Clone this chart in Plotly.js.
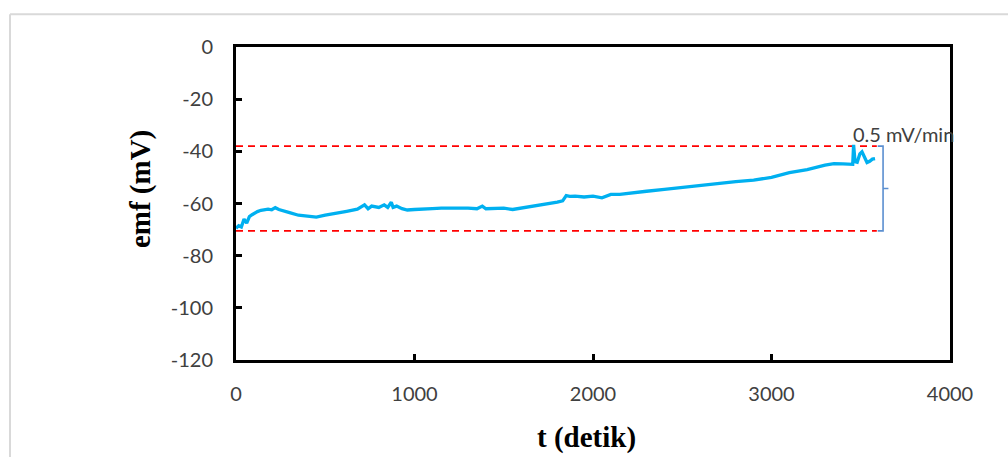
<!DOCTYPE html>
<html>
<head>
<meta charset="utf-8">
<script src="https://cdn.plot.ly/plotly-3.0.1.min.js"></script>
<style>html,body{margin:0;padding:0;background:#fff;}#chart{width:1008px;height:457px;}</style>
</head>
<body>
<div id="chart"></div>
<script>
// emf measurement series
const timeSec = [0, 15, 30, 45, 60, 75, 90, 105, 120, 140, 160, 180, 200, 220, 240, 260, 300, 350, 400, 450, 500, 560, 620, 680, 700, 720, 740, 760, 800, 830, 850, 870, 880, 900, 930, 960, 1000, 1050, 1100, 1150, 1200, 1250, 1300, 1350, 1380, 1400, 1450, 1500, 1550, 1600, 1650, 1700, 1750, 1800, 1830, 1850, 1870, 1900, 1950, 2000, 2050, 2100, 2150, 2200, 2300, 2400, 2500, 2600, 2700, 2800, 2900, 3000, 3100, 3200, 3300, 3350, 3400, 3440, 3455, 3460, 3468, 3480, 3495, 3507, 3520, 3535, 3550, 3565, 3580];
const emfMv = [-69.5, -68.5, -69, -66, -67.5, -65, -64.3, -63.6, -63.1, -62.6, -62.3, -62.2, -62.4, -61.6, -62.3, -62.8, -63.5, -64.5, -65, -65.2, -64.5, -63.6, -63, -62.2, -61.5, -60.5, -62, -61, -61.5, -60.5, -61.5, -59.5, -61.5, -61, -62, -62.5, -62.3, -62, -62, -61.8, -61.8, -61.5, -61.8, -62, -61, -62, -61.8, -61.8, -62.3, -61.8, -61, -60.5, -60, -59.5, -59, -57, -57.3, -57.2, -57.5, -57.2, -57.8, -56.5, -56.5, -56, -55.3, -54.6, -53.8, -53, -52.3, -51.6, -51, -50, -48.2, -47, -45.3, -44.7, -44.8, -45, -45, -37.5, -44, -44.2, -41, -40.2, -42, -44.3, -43.8, -43, -42.8];

// reference band (dashed red lines)
const bandX = [0, 3590];
const bandUpper = [-38, -38];
const bandLower = [-70.5, -70.5];

// bracket and label
const bracketX = 3625;
const bracketTop = -38;
const bracketBottom = -70.5;
const bracketLabel = "0.5 mV/min";

// axes
const xTicks = [0, 1000, 2000, 3000, 4000];
const yTicks = [0, -20, -40, -60, -80, -100, -120];
const xTitle = "t (detik)";
const yTitle = "emf (mV)";

const tickFont = {family: "Lato, 'Open Sans', sans-serif", size: 20, color: "#404040"};
const titleFont = {family: "'Liberation Serif', 'Times New Roman', serif", size: 29, color: "#000", weight: "bold"};

const traces = [
  {x: bandX, y: bandUpper, mode: "lines", line: {color: "#FF0000", width: 1.6, dash: "7px,5px"}, hoverinfo: "skip"},
  {x: bandX, y: bandLower, mode: "lines", line: {color: "#FF0000", width: 1.6, dash: "7px,5px"}, hoverinfo: "skip"},
  {x: timeSec, y: emfMv, mode: "lines", line: {color: "#00B0F0", width: 3.3}}
];

const layout = {
  width: 1008, height: 457,
  margin: {l: 236, r: 58, t: 47, b: 97},
  paper_bgcolor: "#fff", plot_bgcolor: "#fff",
  showlegend: false,
  xaxis: {
    range: [0, 4000], tickvals: xTicks, ticktext: xTicks.map(String),
    showgrid: false, zeroline: false,
    showline: true, linecolor: "#000", linewidth: 3, mirror: true,
    ticks: "inside", ticklen: 6, tickwidth: 3, tickcolor: "#000",
    ticklabelstandoff: 14,
    tickfont: tickFont
  },
  yaxis: {
    range: [-120, 0], tickvals: yTicks, ticktext: yTicks.map(String),
    showgrid: false, zeroline: false,
    showline: true, linecolor: "#000", linewidth: 3, mirror: true,
    ticks: "inside", ticklen: 6, tickwidth: 3, tickcolor: "#000",
    ticklabelstandoff: 16,
    tickfont: tickFont
  },
  shapes: [
    {type: "path", xref: "x", yref: "y",
     path: `M ${bracketX - 30},${bracketTop} L ${bracketX},${bracketTop} L ${bracketX},${bracketBottom} L ${bracketX - 30},${bracketBottom} M ${bracketX},${(bracketTop + bracketBottom) / 2} L ${bracketX + 30},${(bracketTop + bracketBottom) / 2}`,
     line: {color: "#5B8FD0", width: 1.6}},
    {type: "line", xref: "paper", yref: "paper", x0: -0.3165, x1: 1.1, y0: 1.105, y1: 1.105, line: {color: "#D9D9D9", width: 2}},
    {type: "line", xref: "paper", yref: "paper", x0: -0.3165, x1: -0.3165, y0: 1.105, y1: -0.32, line: {color: "#D9D9D9", width: 2}}
  ],
  annotations: [
    {x: 3445, y: -33.5, xref: "x", yref: "y", text: bracketLabel, showarrow: false,
     xanchor: "left", yanchor: "middle", font: {family: "Lato, 'Open Sans', sans-serif", size: 20, color: "#404040"}},
    {x: -0.1345, y: -54.5, xref: "paper", yref: "y", text: yTitle, textangle: -90, showarrow: false,
     xanchor: "center", yanchor: "middle", font: titleFont},
    {x: 0.4905, y: -0.248, xref: "paper", yref: "paper", text: xTitle, showarrow: false,
     xanchor: "center", yanchor: "middle", font: titleFont}
  ]
};

Plotly.newPlot("chart", traces, layout, {displayModeBar: false, staticPlot: true});
</script>
</body>
</html>
